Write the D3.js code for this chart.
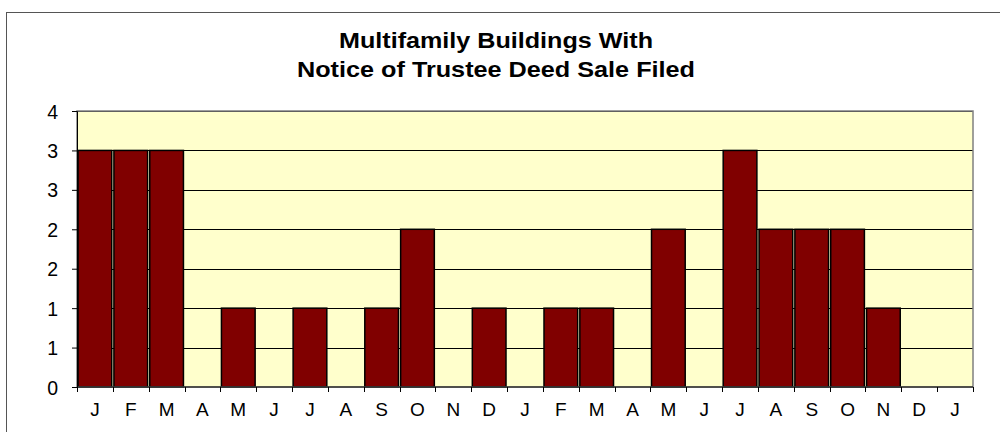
<!DOCTYPE html>
<html><head><meta charset="utf-8">
<script src="https://cdn.jsdelivr.net/npm/d3@7"></script>
<style>body{margin:0;background:#fff}svg{display:block}</style>
</head><body>
<svg id="c" width="1000" height="432"></svg>
<script>
const categories = ["J","F","M","A","M","J","J","A","S","O","N","D","J","F","M","A","M","J","J","A","S","O","N","D","J"];
const values = [3,3,3,0,1,0,1,0,1,2,0,1,0,1,1,0,2,0,3,2,2,2,1,0,0];
const yTicks = [0,0.5,1,1.5,2,2.5,3,3.5];
const titleLines = ["Multifamily Buildings With","Notice of Trustee Deed Sale Filed"];

const svg = d3.select("#c");
const font = "'Liberation Sans', Arial, sans-serif";
svg.append("rect").attr("x",6.5).attr("y",12.5).attr("width",1000).attr("height",430)
  .attr("fill","#fff").attr("stroke","#555").attr("stroke-width",1);

const L=77, R=973, T=111, B=387;
const x = d3.scaleBand().domain(d3.range(categories.length)).range([L,R]).paddingInner(0.06).paddingOuter(0.03);
const y = d3.scaleLinear().domain([0,3.5]).range([B,T]);

svg.append("rect").attr("x",L).attr("y",T).attr("width",R-L).attr("height",B-T).attr("fill","#FFFFCC");
svg.append("g").selectAll("line").data(yTicks.filter(d=>d>0)).join("line")
  .attr("x1",L).attr("x2",R).attr("y1",d=>Math.round(y(d))+0.5).attr("y2",d=>Math.round(y(d))+0.5)
  .attr("stroke","#000").attr("stroke-width",1);

svg.append("g").selectAll("rect").data(values).join("rect")
  .attr("x",(d,i)=>x(i)).attr("width",x.bandwidth())
  .attr("y",d=>y(d)).attr("height",d=>B-y(d))
  .attr("fill","#800000").attr("stroke","#000").attr("stroke-width",1.5)
  .attr("display",d=>d>0?null:"none");

svg.append("rect").attr("x",L).attr("y",T).attr("width",R-L).attr("height",B-T)
  .attr("fill","none").attr("stroke","#808080").attr("stroke-width",1.5);

const yAxis = d3.axisLeft(y).tickValues(yTicks).tickSize(5).tickPadding(14)
  .tickFormat(d=>String(Math.floor(d+0.5)));
const ga = svg.append("g").attr("transform",`translate(${L},0)`).call(yAxis);
ga.select(".domain").attr("stroke","#000");
ga.selectAll("line").attr("stroke","#000");
ga.selectAll("text").attr("font-family",font).style("font-size","19.5px").attr("fill","#000").attr("dy","0.36em");

const xb = d3.scaleLinear().domain([0,categories.length]).range([L,R]);
const gx = svg.append("g").attr("transform",`translate(0,${B})`);
gx.append("line").attr("x1",L).attr("x2",R).attr("stroke","#000");
gx.selectAll("line.t").data(d3.range(categories.length+1)).join("line").attr("class","t")
  .attr("x1",d=>Math.round(xb(d))+0.5).attr("x2",d=>Math.round(xb(d))+0.5).attr("y1",0).attr("y2",5).attr("stroke","#000");
gx.selectAll("text").data(categories).join("text")
  .attr("x",(d,i)=>xb(i+0.5)).attr("y",29).attr("text-anchor","middle")
  .attr("font-family",font).style("font-size","19px").attr("fill","#000").text(d=>d);

const titleW = [314, 398];
svg.append("g").selectAll("text").data(titleLines).join("text")
  .attr("x",(d,i)=>496-titleW[i]/2).attr("y",(d,i)=>48+i*29)
  .attr("textLength",(d,i)=>titleW[i]).attr("lengthAdjust","spacingAndGlyphs")
  .attr("font-family",font).attr("font-weight","bold").style("font-size","22px").attr("fill","#000").text(d=>d);
</script>
</body></html>
